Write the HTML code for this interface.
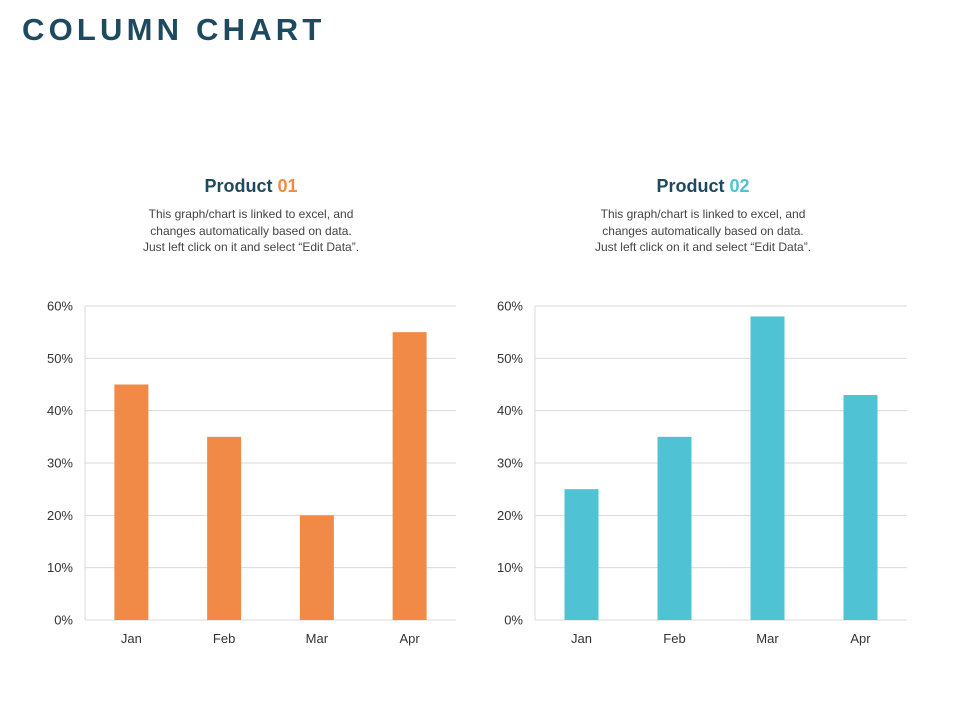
<!DOCTYPE html>
<html><head><meta charset="utf-8"><style>
body{margin:0;width:960px;height:720px;background:#fff;font-family:"Liberation Sans",sans-serif;position:relative;overflow:hidden}
#title{position:absolute;left:22px;top:12px;font-size:31px;font-weight:bold;letter-spacing:4.2px;color:#1d4a5e;margin:0;white-space:nowrap}
.ph{position:absolute;width:300px;text-align:center;font-size:18px;font-weight:bold;color:#1d4a5e;top:176px}
.desc{position:absolute;width:300px;text-align:center;font-size:12px;line-height:16.5px;color:#444;top:206px}
svg{position:absolute;left:0;top:0}
</style></head><body>
<h1 id="title">COLUMN CHART</h1>
<div class="ph" style="left:101px">Product <span style="color:#f28a47">01</span></div>
<div class="desc" style="left:101px">This graph/chart is linked to excel, and<br>changes automatically based on data.<br>Just left click on it and select “Edit Data”.</div>
<div class="ph" style="left:553px">Product <span style="color:#4fc3d3">02</span></div>
<div class="desc" style="left:553px">This graph/chart is linked to excel, and<br>changes automatically based on data.<br>Just left click on it and select “Edit Data”.</div>
<svg id="chart" width="960" height="720"></svg>
<script>
const categories=["Jan","Feb","Mar","Apr"];
const product1=[45,35,20,55];
const product2=[25,35,58,43];
const ticks=[0,10,20,30,40,50,60];
const NS="http://www.w3.org/2000/svg";
const svg=document.getElementById('chart');
function mk(t,a){const e=document.createElementNS(NS,t);for(const k in a)e.setAttribute(k,a[k]);svg.appendChild(e);return e;}
function draw(x0,x1,vals,color,name){
  const y0=620,y1=306,max=60;
  const y=v=>y0-(v/max)*(y0-y1);
  const bw=(x1-x0)/categories.length;
  ticks.forEach(t=>{
    const l=mk('line',{x1:x0,x2:x1,y1:y(t),y2:y(t),stroke:'#d9d9d9','stroke-width':1});
    
    
    const tx=mk('text',{x:x0-12,y:y(t)+4.5,'text-anchor':'end','font-size':13,fill:'#333'});
    tx.textContent=t+'%';
    
    
  });
  const ax=mk('line',{x1:x0,x2:x0,y1:y1,y2:y0,stroke:'#d9d9d9','stroke-width':1});
  
  
  categories.forEach((c,i)=>{
    const cx=x0+bw*(i+0.5);
    const r=mk('rect',{x:cx-17,y:y(vals[i]),width:34,height:y0-y(vals[i]),fill:color});
    
    
    const tx=mk('text',{x:cx,y:643,'text-anchor':'middle','font-size':13,fill:'#333'});
    tx.textContent=c;
    
    
  });
}
draw(85,456,product1,'#f28a47','product-01');
draw(535,907,product2,'#4fc3d3','product-02');
</script>
</body></html>
